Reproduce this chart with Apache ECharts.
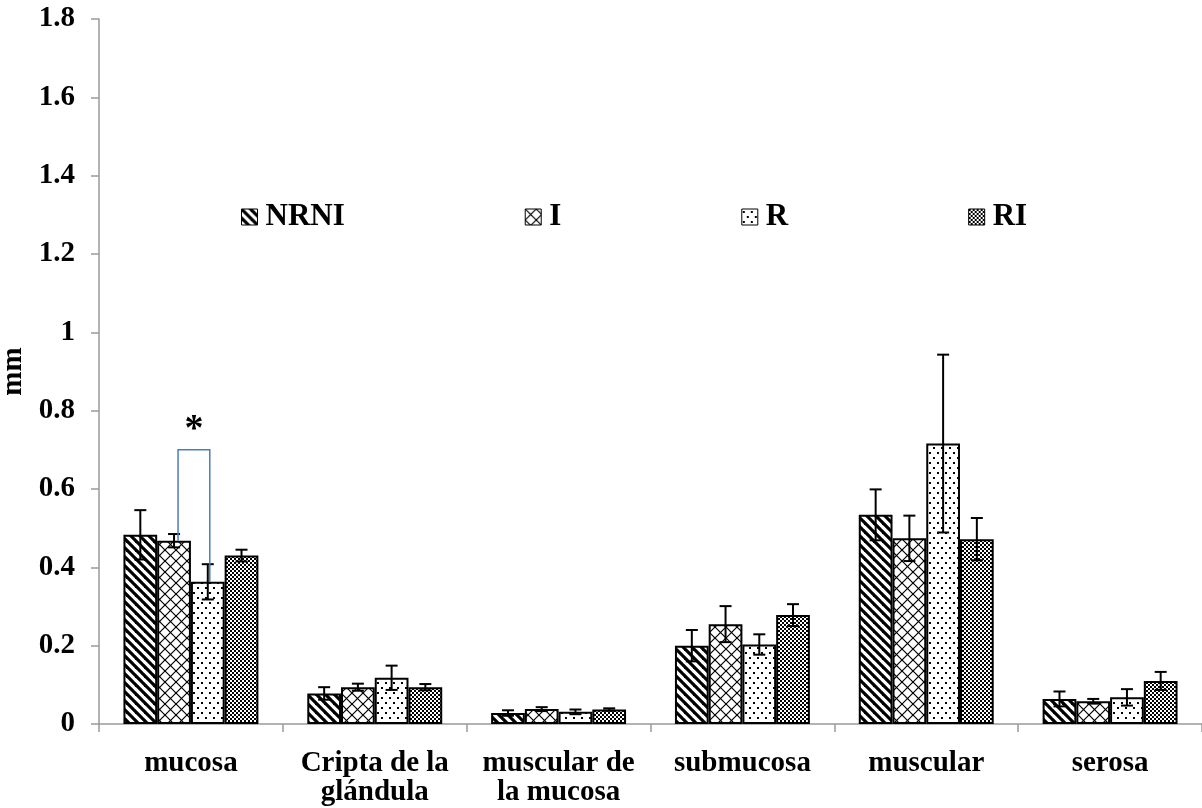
<!DOCTYPE html>
<html>
<head>
<meta charset="utf-8">
<script src="https://cdn.jsdelivr.net/npm/echarts@6/dist/echarts.min.js"></script>
<style>
html,body{margin:0;padding:0;background:#fff;}
#chart{width:1202px;height:808px;}
</style>
</head>
<body>
<div id="chart"></div>
<script>
// ---- data ----
const categories = ['mucosa', 'Cripta de la\nglándula', 'muscular de\nla mucosa', 'submucosa', 'muscular', 'serosa'];
const seriesNames = ['NRNI', 'I', 'R', 'RI'];
const NRNI = [0.483, 0.078, 0.028, 0.200, 0.534, 0.064];
const NRNI_err = [0.063, 0.016, 0.007, 0.040, 0.065, 0.019];
const I = [0.468, 0.094, 0.038, 0.255, 0.474, 0.058];
const I_err = [0.017, 0.009, 0.005, 0.046, 0.058, 0.006];
const R = [0.363, 0.118, 0.031, 0.203, 0.716, 0.068];
const R_err = [0.045, 0.031, 0.006, 0.026, 0.227, 0.021];
const RI = [0.430, 0.094, 0.037, 0.278, 0.472, 0.110];
const RI_err = [0.015, 0.008, 0.003, 0.028, 0.054, 0.023];
const yTicks = { min: 0, max: 1.8, interval: 0.2 };
// significance bracket: category index, from series I to series R, bracket top value
const bracket = { cat: 0, from: 1, to: 2, top: 0.70, label: '*' };

const values = [NRNI, I, R, RI];
const errors = [NRNI_err, I_err, R_err, RI_err];

// ---- patterns ----
function tile(w, h, draw) {
  const c = document.createElement('canvas');
  c.width = w; c.height = h;
  const ctx = c.getContext('2d');
  ctx.fillStyle = '#fff'; ctx.fillRect(0, 0, w, h);
  ctx.fillStyle = '#000'; ctx.strokeStyle = '#000';
  draw(ctx, w, h);
  return { image: c, repeat: 'repeat' };
}
const patStripes = tile(9, 9, (ctx, w) => {
  ctx.lineWidth = 3.2;
  for (let k = -w; k <= w; k += w) {
    ctx.beginPath(); ctx.moveTo(-2, k - 2); ctx.lineTo(w + 2, k + w + 2); ctx.stroke();
  }
});
const patCross = tile(11, 11, (ctx, w) => {
  ctx.lineWidth = 1.2;
  for (let k = -w; k <= w; k += w) {
    ctx.beginPath(); ctx.moveTo(-2, k - 2); ctx.lineTo(w + 2, k + w + 2); ctx.stroke();
    ctx.beginPath(); ctx.moveTo(-2, w - k + 2); ctx.lineTo(w + 2, -k - 2); ctx.stroke();
  }
});
const patDots = tile(8, 10, (ctx) => {
  ctx.fillRect(1, 2, 2, 2);
  ctx.fillRect(5, 7, 2, 2);
});
const patChecker = tile(4, 4, (ctx) => {
  ctx.fillRect(0, 0, 2, 2);
  ctx.fillRect(2, 2, 2, 2);
});
const patterns = [patStripes, patCross, patDots, patChecker];

const catGapPct = 26.6;
const font = '"Liberation Serif", "Times New Roman", serif';

function barCenter(api, cat, idx) {
  const p = api.coord([cat, 0]);
  const catW = api.size([1, 0])[0];
  const bw = catW * (1 - catGapPct / 100) / seriesNames.length;
  return p[0] + (idx - (seriesNames.length - 1) / 2) * bw;
}

const series = [];
seriesNames.forEach((name, i) => {
  series.push({
    name: name,
    type: 'bar',
    data: values[i],
    barGap: '0%',
    barCategoryGap: catGapPct + '%',
    itemStyle: { color: patterns[i], borderColor: '#000', borderWidth: 2 },
    emphasis: { disabled: true },
    z: 2
  });
});
seriesNames.forEach((name, i) => {
  series.push({
    type: 'custom',
    name: name + ' err',
    data: values[i].map((v, c) => [c, v, errors[i][c]]),
    encode: { x: 0, y: 1 },
    z: 5,
    silent: true,
    renderItem: function (params, api) {
      const cat = api.value(0), v = api.value(1), e = api.value(2);
      const x = barCenter(api, cat, i);
      const yT = api.coord([cat, v + e])[1];
      const yB = api.coord([cat, v - e])[1];
      const cap = 6;
      const st = { stroke: '#000', lineWidth: 2 };
      return {
        type: 'group',
        children: [
          { type: 'line', shape: { x1: x, y1: yT, x2: x, y2: yB }, style: st },
          { type: 'line', shape: { x1: x - cap, y1: yT, x2: x + cap, y2: yT }, style: st },
          { type: 'line', shape: { x1: x - cap, y1: yB, x2: x + cap, y2: yB }, style: st }
        ]
      };
    }
  });
});
series.push({
  type: 'custom',
  name: 'bracket',
  data: [[bracket.cat, bracket.top]],
  encode: { x: 0, y: 1 },
  z: 6,
  silent: true,
  renderItem: function (params, api) {
    const cat = api.value(0), top = api.value(1);
    const x1 = barCenter(api, cat, bracket.from) + 4;
    const x2 = barCenter(api, cat, bracket.to) + 2;
    const yTop = api.coord([cat, top])[1];
    const y1 = api.coord([cat, values[bracket.from][cat]])[1];
    const y2 = api.coord([cat, values[bracket.to][cat]])[1];
    return {
      type: 'group',
      children: [
        { type: 'polyline', shape: { points: [[x1, y1], [x1, yTop], [x2, yTop], [x2, y2]] },
          style: { stroke: '#4a7ebb', lineWidth: 1.5, fill: null } },
        { type: 'text', style: { text: bracket.label, x: (x1 + x2) / 2, y: yTop - 1,
          align: 'center', verticalAlign: 'bottom', fill: '#000',
          font: 'bold 38px ' + font } }
      ]
    };
  }
});

const chart = echarts.init(document.getElementById('chart'), null, { renderer: 'canvas' });
chart.setOption({
  animation: false,
  backgroundColor: '#fff',
  grid: { left: 99, right: 0, top: 19, bottom: 84, containLabel: false, outerBoundsMode: 'none' },
  legend: {
    data: seriesNames,
    left: 236,
    top: 196,
    itemWidth: 16,
    itemHeight: 16,
    itemGap: 180,
    icon: 'rect',
    itemStyle: { borderWidth: 1, borderColor: '#000' },
    textStyle: { fontFamily: font, fontWeight: 'bold', fontSize: 31, color: '#000', padding: [0, 0, 0, 3], lineHeight: 32 },
    selectedMode: false
  },
  xAxis: {
    type: 'category',
    data: categories,
    axisLine: { lineStyle: { color: '#9a9a9a', width: 1.5 } },
    axisTick: { show: true, length: 8, alignWithLabel: false, interval: 0, lineStyle: { color: '#9a9a9a', width: 1.5 } },
    axisLabel: { interval: 0, margin: 25, fontFamily: font, fontWeight: 'bold', fontSize: 29, lineHeight: 29, color: '#000' }
  },
  yAxis: {
    type: 'value',
    min: yTicks.min, max: yTicks.max, interval: yTicks.interval,
    name: 'mm',
    nameLocation: 'middle',
    nameGap: 57,
    nameRotate: 90,
    nameTextStyle: { fontFamily: font, fontWeight: 'bold', fontSize: 29, color: '#000' },
    splitLine: { show: false },
    axisLine: { show: true, lineStyle: { color: '#9a9a9a', width: 1.5 } },
    axisTick: { show: true, length: 8, lineStyle: { color: '#9a9a9a', width: 1.5 } },
    axisLabel: { margin: 24, fontFamily: font, fontWeight: 'bold', fontSize: 29, color: '#000' }
  },
  series: series
});
</script>
</body>
</html>
